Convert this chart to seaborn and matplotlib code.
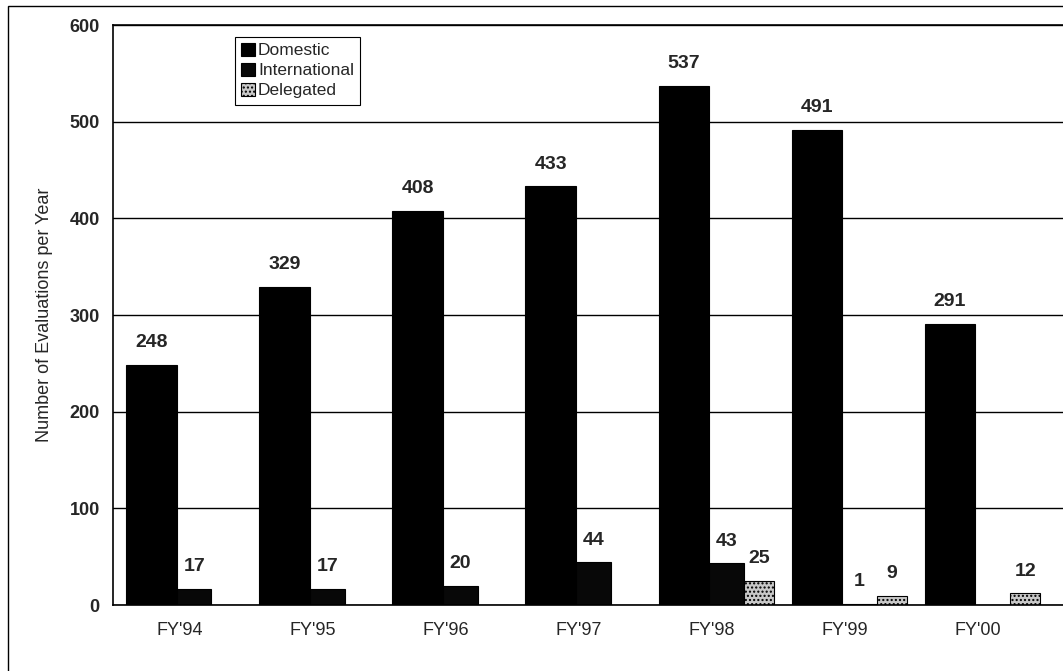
import pandas as pd
import numpy as np
import matplotlib.pyplot as plt
import seaborn as sns
from matplotlib.patches import Rectangle

# 데이터
years = ["FY'94", "FY'95", "FY'96", "FY'97", "FY'98", "FY'99", "FY'00"]
series = ['Domestic', 'International', 'Delegated']
domestic = [248, 329, 408, 433, 537, 491, 291]
international = [17, 17, 20, 44, 43, 1, 0]
delegated = [0, 0, 0, 0, 25, 9, 12]

df = pd.DataFrame({
    'year': years * 3,
    'type': [s for s in series for _ in years],
    'count': domestic + international + delegated,
})

sns.set_style('white')
plt.rcParams['font.family'] = ['Liberation Sans', 'DejaVu Sans']

fig = plt.figure(figsize=(10.63, 6.71), dpi=100)
ax = fig.add_axes([113 / 1063, (671 - 605) / 671, (1063 - 113) / 1063, (605 - 25) / 671])

sns.barplot(data=df, x='year', y='count', hue='type', hue_order=series,
            palette=['#000000', '#080808', '#c8c8c8'], saturation=1,
            width=0.9, edgecolor='black', linewidth=0.8, legend=False, ax=ax)

# 막대 폭/위치 조정 (원본처럼 Domestic 막대가 더 넓음)
layout = [(-0.40, 0.38), (-0.02, 0.26), (0.24, 0.23)]
for cont, (x0, w) in zip(ax.containers, layout):
    for i, p in enumerate(cont.patches):
        p.set_x(i + x0)
        p.set_width(w)
for p in ax.containers[2].patches:
    p.set_hatch('....')

# 값 레이블
for cont, vals in zip(ax.containers, [domestic, international, delegated]):
    labels = [str(v) if v > 0 else '' for v in vals]
    ax.bar_label(cont, labels=labels, padding=10, fontsize=14, fontweight='bold')

ax.set_ylim(0, 600)
ax.set_xlim(-0.5, 6.64)
ax.set_yticks(range(0, 601, 100))
ax.yaxis.grid(True, color='black', linewidth=1)
ax.set_axisbelow(True)

ax.set_xticks(range(len(years)))
ax.set_xticklabels(years, fontsize=13)
ax.set_xticks(np.arange(-0.5, 7, 1), minor=True)
ax.tick_params(axis='x', which='major', length=0, pad=12)
ax.tick_params(axis='x', which='minor', length=5, width=1, color='black', direction='out')
ax.tick_params(axis='y', length=6, width=1, color='black', direction='out', labelsize=13)
for t in ax.get_yticklabels():
    t.set_fontweight('bold')

for s in ['left', 'bottom', 'top']:
    ax.spines[s].set_color('black')
    ax.spines[s].set_linewidth(1.2)
ax.spines['right'].set_visible(False)

ax.set_xlabel('')
ax.set_ylabel('Number of Evaluations per Year', fontsize=13, labelpad=12)

leg = ax.legend([c.patches[0] for c in ax.containers], series,
                loc='upper left', bbox_to_anchor=(226 / 1063, 1 - 28 / 671),
                bbox_transform=fig.transFigure, fontsize=12.5, frameon=True,
                fancybox=False, edgecolor='black', framealpha=1,
                handlelength=0.8, handleheight=0.8, handletextpad=0.2,
                labelspacing=0.25, borderpad=0.35)
leg.get_frame().set_linewidth(0.8)

# 그림 테두리
fig.patches.append(Rectangle((8 / 1063, -0.05), 1.1, 1.05 - 6 / 671, transform=fig.transFigure,
                             fill=False, edgecolor='black', linewidth=1))

fig.savefig('out.png', dpi=100)
